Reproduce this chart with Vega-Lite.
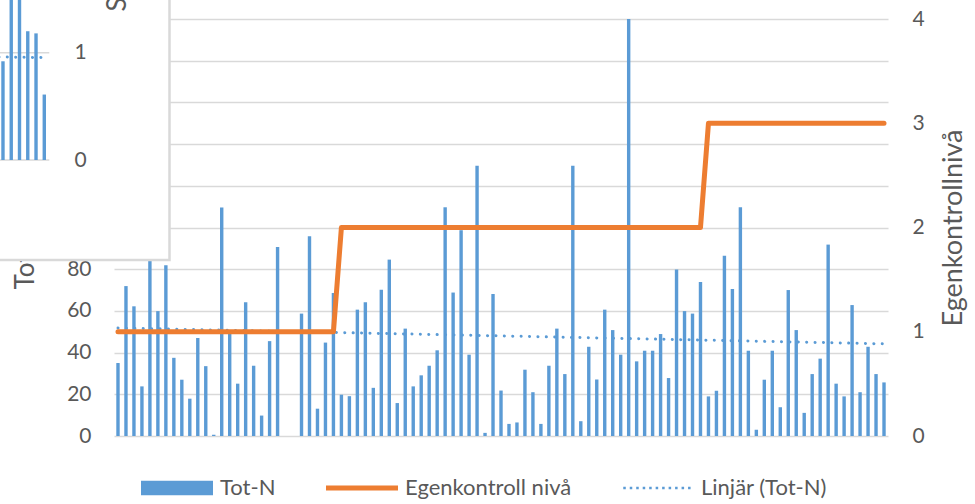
{
  "$schema": "https://vega.github.io/schema/vega-lite/v6.json",
  "width": 774,
  "height": 417,
  "autosize": {"type": "none"},
  "padding": {"left": 114, "top": 19, "right": 87, "bottom": 68},
  "background": "white",
  "config": {
    "view": {"stroke": null},
    "font": "Lato",
    "axis": {"labelFont": "Lato", "titleFont": "Lato", "labelColor": "#595959", "titleColor": "#595959", "titleFontWeight": "normal", "domain": false, "ticks": false},
    "legend": {"title": null, "orient": "none", "legendX": 27, "legendY": 433, "direction": "horizontal", "symbolSize": 5184, "symbolStrokeWidth": 0,
               "labelFontSize": 22, "labelLimit": 400, "labelColor": "#595959", "labelFont": "Lato", "labelOffset": 7, "columnPadding": 50}
  },
  "data": {"values": [
    {"n":1,"totN":35.0,"niva":1},{"n":2,"totN":71.9,"niva":1},{"n":3,"totN":62.2,"niva":1},{"n":4,"totN":23.8,"niva":1},{"n":5,"totN":95,"niva":1},
    {"n":6,"totN":59.9,"niva":1},{"n":7,"totN":81.9,"niva":1},{"n":8,"totN":37.5,"niva":1},{"n":9,"totN":27.0,"niva":1},{"n":10,"totN":17.9,"niva":1},
    {"n":11,"totN":47.0,"niva":1},{"n":12,"totN":33.5,"niva":1},{"n":13,"totN":0.6,"niva":1},{"n":14,"totN":109.6,"niva":1},{"n":15,"totN":49.1,"niva":1},
    {"n":16,"totN":25.1,"niva":1},{"n":17,"totN":64.1,"niva":1},{"n":18,"totN":33.7,"niva":1},{"n":19,"totN":9.8,"niva":1},{"n":20,"totN":45.5,"niva":1},
    {"n":21,"totN":90.7,"niva":1},{"n":24,"totN":58.7,"niva":1},{"n":25,"totN":95.8,"niva":1},{"n":26,"totN":13.1,"niva":1},{"n":27,"totN":44.8,"niva":1},
    {"n":28,"totN":68.6,"niva":1},{"n":29,"totN":19.8,"niva":2},{"n":30,"totN":19.1,"niva":2},{"n":31,"totN":60.6,"niva":2},{"n":32,"totN":64.1,"niva":2},
    {"n":33,"totN":23.1,"niva":2},{"n":34,"totN":70.2,"niva":2},{"n":35,"totN":84.6,"niva":2},{"n":36,"totN":15.8,"niva":2},{"n":37,"totN":51.5,"niva":2},
    {"n":38,"totN":23.8,"niva":2},{"n":39,"totN":29.1,"niva":2},{"n":40,"totN":33.7,"niva":2},{"n":41,"totN":41.1,"niva":2},{"n":42,"totN":109.7,"niva":2},
    {"n":43,"totN":68.8,"niva":2},{"n":44,"totN":98.7,"niva":2},{"n":45,"totN":39.0,"niva":2},{"n":46,"totN":129.6,"niva":2},{"n":47,"totN":1.5,"niva":2},
    {"n":48,"totN":68.1,"niva":2},{"n":49,"totN":21.8,"niva":2},{"n":50,"totN":5.8,"niva":2},{"n":51,"totN":6.5,"niva":2},{"n":52,"totN":31.8,"niva":2},
    {"n":53,"totN":21.0,"niva":2},{"n":54,"totN":5.8,"niva":2},{"n":55,"totN":33.7,"niva":2},{"n":56,"totN":51.5,"niva":2},{"n":57,"totN":29.7,"niva":2},
    {"n":58,"totN":129.6,"niva":2},{"n":59,"totN":7.1,"niva":2},{"n":60,"totN":42.8,"niva":2},{"n":61,"totN":27.1,"niva":2},{"n":62,"totN":60.6,"niva":2},
    {"n":63,"totN":50.8,"niva":2},{"n":64,"totN":39.0,"niva":2},{"n":65,"totN":200,"niva":2},{"n":66,"totN":35.8,"niva":2},{"n":67,"totN":40.9,"niva":2},
    {"n":68,"totN":40.9,"niva":2},{"n":69,"totN":48.9,"niva":2},{"n":70,"totN":27.8,"niva":2},{"n":71,"totN":79.8,"niva":2},{"n":72,"totN":59.9,"niva":2},
    {"n":73,"totN":58.7,"niva":2},{"n":74,"totN":73.9,"niva":2},{"n":75,"totN":19.0,"niva":3},{"n":76,"totN":21.7,"niva":3},{"n":77,"totN":86.5,"niva":3},
    {"n":78,"totN":70.5,"niva":3},{"n":79,"totN":109.7,"niva":3},{"n":80,"totN":40.9,"niva":3},{"n":81,"totN":3.0,"niva":3},{"n":82,"totN":27.0,"niva":3},
    {"n":83,"totN":40.9,"niva":3},{"n":84,"totN":13.8,"niva":3},{"n":85,"totN":70.0,"niva":3},{"n":86,"totN":50.8,"niva":3},{"n":87,"totN":11.1,"niva":3},
    {"n":88,"totN":29.7,"niva":3},{"n":89,"totN":37.1,"niva":3},{"n":90,"totN":91.8,"niva":3},{"n":91,"totN":25.1,"niva":3},{"n":92,"totN":19.0,"niva":3},
    {"n":93,"totN":62.8,"niva":3},{"n":94,"totN":21.0,"niva":3},{"n":95,"totN":42.8,"niva":3},{"n":96,"totN":29.7,"niva":3},{"n":97,"totN":25.7,"niva":3}
  ]},
  "layer": [
    {
      "layer": [
        {
          "mark": {"type": "bar", "size": 3.4, "orient": "vertical"},
          "encoding": {
            "x": {"field": "n", "type": "quantitative", "scale": {"domain": [0.5, 97.5], "nice": false, "zero": false, "padding": 0}, "axis": null},
            "y": {"field": "totN", "type": "quantitative", "scale": {"domain": [0, 200], "nice": false},
                  "axis": {"orient": "left", "values": [0,20,40,60,80,100,120,140,160,180,200], "labelExpr": "datum.value <= 80 ? datum.label : ''",
                           "grid": true, "gridColor": "#d9d9d9", "gridWidth": 1.5,
                           "labelFontSize": 21, "labelPadding": 23, "title": "Tot-N (mg/l)", "titleFontSize": 26, "titleAngle": 270, "titleAlign": "left", "titleX": -89, "titleY": 270, "titleBaseline": "middle"}},
            "color": {"datum": "Tot-N", "type": "nominal",
              "scale": {"domain": ["Tot-N", "Egenkontroll nivå", "Linjär (Tot-N)"], "range": ["#5b9bd5", "#ed7d31", "#5b9bd5"]},
              "legend": {
                "encode": {"symbols": {"update": {
                  "shape": {"signal": "datum.label === 'Tot-N' ? 'M-1,-0.2H1V0.2H-1Z' : (datum.label === 'Egenkontroll nivå' ? 'M-1,-0.07H1V0.07H-1Z' : 'M-0.965,-0.035h0.07v0.07h-0.07Z M-0.785,-0.035h0.07v0.07h-0.07Z M-0.605,-0.035h0.07v0.07h-0.07Z M-0.425,-0.035h0.07v0.07h-0.07Z M-0.245,-0.035h0.07v0.07h-0.07Z M-0.065,-0.035h0.07v0.07h-0.07Z M0.115,-0.035h0.07v0.07h-0.07Z M0.295,-0.035h0.07v0.07h-0.07Z M0.475,-0.035h0.07v0.07h-0.07Z M0.655,-0.035h0.07v0.07h-0.07Z M0.835,-0.035h0.07v0.07h-0.07Z')"},
                  "size": {"value": 5184},
                  "fill": {"signal": "datum.label === 'Egenkontroll nivå' ? '#ed7d31' : '#5b9bd5'"},
                  "stroke": {"value": "transparent"},
                  "opacity": {"value": 1}
                }}}
              }}
          }
        },
        {
          "data": {"values": [{"n": 1, "linj": 51.8}, {"n": 97, "linj": 44.2}]},
          "mark": {"type": "line", "strokeWidth": 3, "strokeCap": "round", "strokeDash": [0.1, 8.3]},
          "encoding": {
            "x": {"field": "n", "type": "quantitative", "scale": {"domain": [0.5, 97.5], "nice": false, "zero": false, "padding": 0}, "axis": null},
            "y": {"field": "linj", "type": "quantitative", "scale": {"domain": [0, 200], "nice": false}},
            "color": {"datum": "Linjär (Tot-N)", "type": "nominal"}
          }
        }
      ]
    },
    {
      "mark": {"type": "line", "strokeWidth": 5, "strokeCap": "round", "strokeJoin": "round"},
      "encoding": {
        "x": {"field": "n", "type": "quantitative", "scale": {"domain": [0.5, 97.5], "nice": false, "zero": false, "padding": 0}, "axis": null},
        "y": {"field": "niva", "type": "quantitative", "scale": {"domain": [0, 4], "nice": false},
              "axis": {"orient": "right", "values": [0,1,2,3,4], "grid": false, "labelFontSize": 21, "labelPadding": 24, "labelAlign": "left",
                       "title": "Egenkontrollnivå", "titleFontSize": 27, "titleAngle": 270, "titleX": 65, "titleBaseline": "middle"}},
        "color": {"datum": "Egenkontroll nivå", "type": "nominal"}
      }
    },
    {
      "layer": [
        {
          "data": {"values": [{}]},
          "mark": {"type": "rect", "fill": "white", "stroke": "#d9d9d9", "strokeWidth": 2.5},
          "encoding": {
            "x": {"datum": -1, "type": "quantitative", "scale": {"domain": [14.44, 108.14], "nice": false, "zero": false, "padding": 0}, "axis": null},
            "x2": {"datum": 21.16},
            "y": {"datum": 1.584, "type": "quantitative", "scale": {"domain": [-2.572, 1.314], "nice": false, "zero": false},
                  "axis": {"orient": "left", "values": [0, 1], "format": "d", "grid": false, "zindex": 2, "labelFontSize": 21, "labelPadding": 40, "labelAlign": "left",
                           "title": "SS (mg/l)", "titleFontSize": 26, "titleAngle": 270, "titleAlign": "left", "titleBaseline": "middle", "titleX": 3, "titleY": -8}},
            "y2": {"datum": -0.932}
          }
        },
        {
          "data": {"values": [{"g": 0}, {"g": 1}]},
          "mark": {"type": "rule", "stroke": "#d9d9d9", "strokeWidth": 1.5},
          "encoding": {
            "x": {"datum": -0.5, "type": "quantitative", "scale": {"domain": [14.44, 108.14], "nice": false, "zero": false, "padding": 0}, "axis": null},
            "x2": {"datum": 6.605},
            "y": {"field": "g", "type": "quantitative", "scale": {"domain": [-2.572, 1.314], "nice": false, "zero": false}}
          }
        },
        {
          "data": {"values": [{"j": 1, "v": 0.92}, {"j": 2, "v": 1.7}, {"j": 3, "v": 1.9}, {"j": 4, "v": 1.2}, {"j": 5, "v": 1.18}, {"j": 6, "v": 0.61}]},
          "mark": {"type": "bar", "size": 3.4, "orient": "vertical", "color": "#5b9bd5"},
          "encoding": {
            "x": {"field": "j", "type": "quantitative", "scale": {"domain": [14.44, 108.14], "nice": false, "zero": false, "padding": 0}, "axis": null},
            "y": {"field": "v", "type": "quantitative", "scale": {"domain": [-2.572, 1.314], "nice": false, "zero": false}}
          }
        },
        {
          "data": {"values": [{"j": 0.5, "t": 0.96}, {"j": 6, "t": 0.955}]},
          "mark": {"type": "line", "strokeWidth": 3, "strokeCap": "round", "strokeDash": [0.1, 8.3], "color": "#5b9bd5"},
          "encoding": {
            "x": {"field": "j", "type": "quantitative", "scale": {"domain": [14.44, 108.14], "nice": false, "zero": false, "padding": 0}, "axis": null},
            "y": {"field": "t", "type": "quantitative", "scale": {"domain": [-2.572, 1.314], "nice": false, "zero": false}}
          }
        }
      ]
    }
  ],
  "resolve": {"scale": {"x": "independent", "y": "independent"}}
}
